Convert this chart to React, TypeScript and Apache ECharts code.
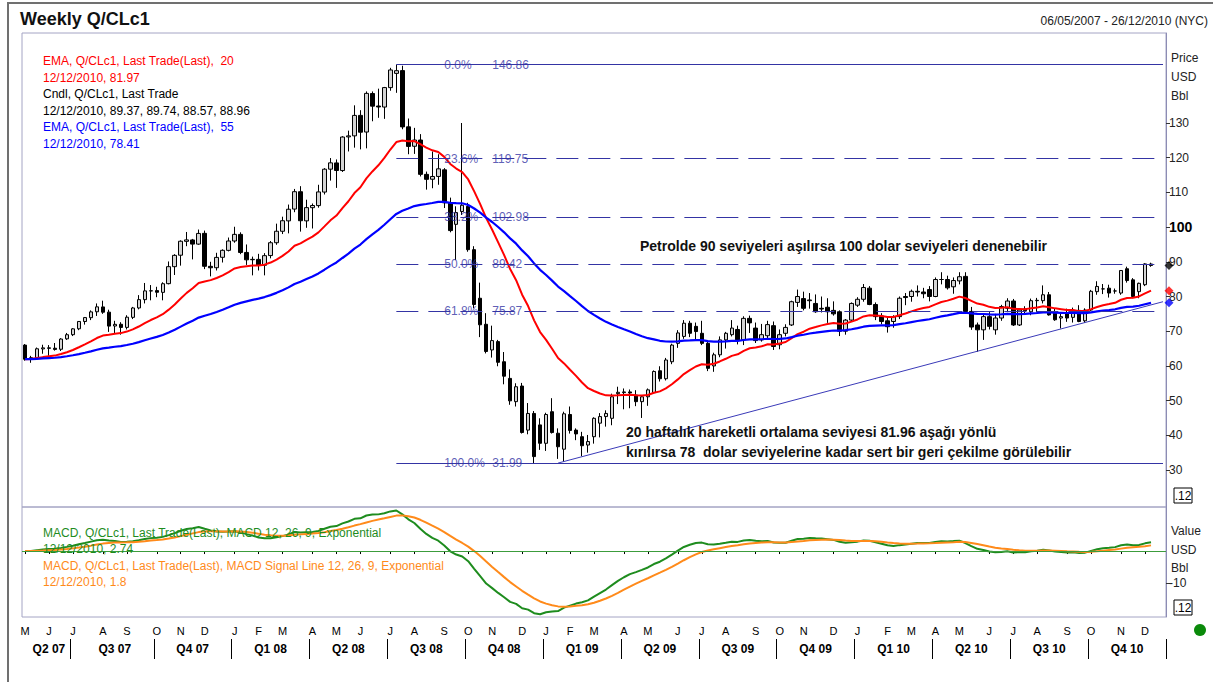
import React, { useEffect, useRef } from 'react';
import * as echarts from 'echarts';

const FONT = '"Liberation Sans", Arial, Helvetica, sans-serif';

// Weekly candles [open, close, low, high]; week 0 is the week labelled 06/05/2007
const candles2007 = [
  [66.0, 61.93, 61.5, 66.3], [61.9, 62.37, 60.9, 62.9], [62.4, 64.94, 62.2, 65.3], [64.9, 65.2, 63.5, 66.1],
  [65.2, 65.08, 62.9, 66.0], [65.1, 64.76, 64.4, 66.6], [64.8, 67.75, 64.3, 68.0], [67.8, 68.99, 67.5, 69.5],
  [69.0, 70.68, 68.6, 70.9], [70.7, 72.81, 70.3, 72.9], [72.8, 73.93, 71.9, 74.1], [73.9, 75.57, 73.2, 76.0],
  [75.6, 77.02, 74.4, 78.0], [77.0, 75.48, 75.0, 78.8], [75.5, 71.47, 69.8, 76.2], [71.5, 71.98, 69.2, 73.0],
  [72.0, 71.09, 69.0, 72.6], [71.1, 74.04, 70.5, 74.6], [74.0, 76.7, 73.5, 77.0], [76.7, 79.1, 76.3, 80.4],
  [79.1, 81.62, 78.0, 83.9], [81.6, 81.66, 78.9, 83.3], [81.7, 81.22, 79.8, 82.8], [81.2, 83.69, 78.9, 84.1],
  [83.7, 88.6, 83.5, 90.1], [88.6, 91.86, 86.2, 92.2], [91.9, 95.93, 88.9, 96.2], [95.9, 96.32, 94.5, 98.6],
  [96.3, 95.1, 90.7, 96.6], [95.1, 98.18, 94.9, 99.3], [98.2, 88.71, 87.9, 99.0], [88.7, 88.28, 85.8, 90.0],
  [88.3, 91.27, 87.5, 92.6], [91.3, 93.31, 89.8, 93.6], [93.3, 96.0, 93.0, 97.0],
];
const candles2008 = [
  [96.0, 97.91, 95.5, 100.1], [97.9, 92.69, 92.2, 98.5], [92.7, 90.57, 89.1, 95.0], [90.6, 90.71, 86.1, 91.5],
  [90.7, 88.96, 87.5, 92.3], [89.0, 91.77, 86.1, 92.5], [91.8, 95.5, 91.0, 96.0], [95.5, 98.81, 94.9, 101.0],
  [98.8, 101.84, 98.0, 103.0], [101.8, 105.15, 98.2, 106.5], [105.2, 110.21, 104.3, 111.0], [110.2, 101.84, 98.7, 111.8],
  [101.8, 105.62, 99.8, 107.9], [105.6, 106.23, 99.6, 106.8], [106.2, 110.14, 105.6, 112.2], [110.1, 116.69, 109.4, 117.0],
  [116.7, 118.52, 113.4, 119.9], [118.5, 116.32, 111.3, 119.5], [116.3, 125.96, 115.9, 126.2], [126.0, 126.29, 121.8, 127.8],
  [126.3, 132.19, 122.9, 135.1], [132.2, 127.35, 122.4, 133.7], [127.4, 138.54, 122.7, 139.1], [138.5, 134.86, 130.5, 139.1],
  [134.9, 134.62, 131.5, 139.9], [134.6, 140.21, 131.2, 140.4], [140.2, 145.29, 139.3, 145.9], [144.3, 145.08, 138.7, 146.86],
  [145.1, 128.88, 128.2, 146.5], [128.9, 123.26, 121.0, 131.3], [123.3, 125.1, 121.1, 128.6], [125.1, 115.2, 114.6, 126.8],
  [115.2, 113.77, 110.8, 116.0], [113.8, 114.59, 111.2, 121.8], [114.6, 116.8, 112.2, 121.0], [116.5, 107.0, 105.5, 117.0],
  [107.0, 99.0, 98.5, 108.5], [100.8, 104.2, 90.5, 106.0], [104.5, 106.3, 103.5, 130.0], [106.0, 93.5, 92.9, 107.0],
  [93.5, 77.7, 76.6, 94.5], [79.5, 71.85, 68.3, 84.0], [72.0, 64.15, 63.6, 75.2], [64.6, 67.3, 62.4, 71.6],
  [67.0, 61.04, 59.9, 67.5], [61.2, 57.04, 54.7, 64.0], [56.4, 49.93, 48.8, 59.0], [49.7, 54.0, 48.3, 55.0],
  [54.2, 40.81, 40.5, 55.1], [41.5, 46.3, 40.3, 49.3], [46.3, 33.87, 31.99, 47.0], [43.0, 37.7, 35.8, 44.9],
];
const candles2009 = [
  [37.7, 46.0, 35.5, 46.5], [46.8, 40.8, 40.5, 50.7], [40.6, 36.7, 33.2, 42.0], [36.0, 46.2, 32.4, 46.8],
  [46.0, 41.4, 40.5, 48.3], [41.5, 40.4, 38.6, 42.0], [39.6, 37.0, 34.0, 41.0], [37.2, 38.2, 35.0, 40.1],
  [39.6, 44.9, 37.6, 45.2], [43.5, 45.4, 39.4, 46.4], [45.4, 46.3, 42.5, 47.2], [44.9, 51.1, 42.9, 52.0],
  [52.0, 52.4, 49.0, 54.0], [52.3, 52.5, 47.5, 53.5], [52.5, 52.2, 47.8, 53.2], [51.6, 49.7, 48.4, 53.0],
  [49.7, 51.1, 45.0, 51.6], [51.1, 53.1, 48.5, 53.5], [52.3, 58.4, 52.0, 58.7], [58.6, 56.3, 55.5, 59.9],
  [56.3, 61.7, 55.8, 62.3], [61.2, 66.0, 60.5, 66.4], [66.5, 69.5, 65.2, 70.3], [68.5, 72.3, 67.8, 73.2],
  [72.3, 69.4, 68.3, 73.0], [71.4, 69.9, 67.6, 72.5], [69.4, 66.5, 66.0, 73.0], [66.5, 59.3, 58.5, 67.0],
  [60.0, 63.2, 58.3, 63.8], [63.2, 67.5, 62.5, 68.5], [67.5, 69.4, 65.0, 69.8], [69.0, 70.9, 68.5, 73.2],
  [70.5, 67.5, 66.2, 71.6], [67.5, 73.7, 66.0, 74.3], [73.7, 72.4, 69.5, 74.5], [70.9, 67.3, 66.6, 72.5],
  [67.5, 69.0, 67.0, 72.1], [68.7, 71.9, 67.8, 73.0], [71.6, 65.6, 64.6, 72.8], [66.1, 69.0, 64.8, 70.5],
  [69.4, 71.1, 68.5, 72.0], [71.8, 78.5, 71.5, 78.8], [78.3, 80.0, 77.0, 82.0], [79.4, 76.6, 76.0, 81.4],
  [78.8, 79.0, 76.5, 81.0], [78.0, 75.6, 75.3, 80.6], [76.6, 76.4, 75.4, 80.0], [76.9, 75.6, 72.4, 79.5],
  [76.0, 75.0, 74.5, 78.6], [75.6, 70.0, 68.6, 76.0], [70.0, 73.2, 69.0, 73.5], [73.2, 78.0, 72.8, 78.3],
  [77.5, 79.2, 77.0, 79.8],
];
const candles2010 = [
  [79.2, 82.6, 78.5, 83.6], [82.4, 77.7, 77.5, 83.0], [77.7, 74.2, 73.2, 78.3], [74.4, 72.8, 72.0, 75.2],
  [73.0, 71.3, 69.6, 73.8], [72.8, 74.2, 71.0, 74.6], [74.2, 79.5, 73.5, 80.0], [80.0, 79.7, 77.5, 81.0],
  [80.0, 81.5, 78.5, 82.0], [81.5, 81.3, 80.0, 83.2], [81.3, 80.8, 79.5, 82.5], [82.0, 80.0, 78.6, 83.0],
  [80.0, 84.9, 79.8, 85.5], [84.9, 84.9, 83.5, 87.0], [84.9, 82.5, 82.0, 86.0], [82.8, 84.6, 80.8, 85.5],
  [84.5, 85.7, 83.5, 87.0], [85.8, 75.7, 75.0, 87.0], [75.7, 71.2, 70.4, 77.0], [71.8, 70.4, 64.1, 72.5],
  [70.4, 74.2, 67.5, 75.0], [74.2, 71.4, 70.5, 75.5], [70.4, 73.8, 69.0, 75.0], [73.8, 77.1, 73.0, 77.6],
  [76.6, 78.7, 75.5, 79.5], [78.7, 71.8, 71.5, 79.3], [71.8, 76.1, 71.5, 76.6], [76.4, 75.9, 74.7, 77.2],
  [75.6, 78.8, 74.6, 79.4], [78.8, 78.9, 75.4, 79.6], [78.8, 80.5, 78.0, 83.2], [80.5, 74.7, 74.5, 81.3],
  [75.2, 73.3, 73.0, 76.5], [73.8, 74.2, 70.8, 75.4], [75.2, 73.8, 72.7, 76.5], [74.0, 76.0, 72.5, 76.8],
  [76.0, 72.8, 72.6, 77.5], [73.0, 76.1, 72.4, 76.6], [76.1, 81.5, 75.8, 81.9], [81.4, 82.9, 80.5, 84.4],
  [82.2, 82.2, 80.7, 83.6], [82.4, 81.0, 79.7, 83.4], [81.6, 81.6, 80.8, 82.3], [81.0, 87.5, 80.5, 87.6],
  [88.0, 84.6, 84.0, 88.6], [84.8, 80.0, 79.5, 85.3], [81.4, 83.8, 79.5, 84.0], [83.4, 89.4, 83.0, 89.6],
  [89.37, 88.96, 88.57, 89.74],
];

const fibLevels = [
  { pct: '0.0%', value: 146.86, solid: true },
  { pct: '23.6%', value: 119.75, solid: false },
  { pct: '38.2%', value: 102.98, solid: false },
  { pct: '50.0%', value: 89.42, solid: false },
  { pct: '61.8%', value: 75.87, solid: false },
  { pct: '100.0%', value: 31.99, solid: true },
];
const fibStartWeek = 62;
const fibLabelWeek = 70;
const trendLine = [[89, 32.0], [190, 78.5]];
const priceTicks = [30, 40, 50, 60, 70, 80, 90, 100, 110, 120, 130];
const macdTicks = [-10];

const priceLegend = [
  { text: 'EMA, Q/CLc1, Last Trade(Last),  20', color: '#ff0000' },
  { text: '12/12/2010, 81.97', color: '#ff0000' },
  { text: 'Cndl, Q/CLc1, Last Trade', color: '#000000' },
  { text: '12/12/2010, 89.37, 89.74, 88.57, 88.96', color: '#000000' },
  { text: 'EMA, Q/CLc1, Last Trade(Last),  55', color: '#0000ff' },
  { text: '12/12/2010, 78.41', color: '#0000ff' },
];
const macdLegend = [
  { text: 'MACD, Q/CLc1, Last Trade(Last), MACD 12, 26, 9, Exponential', color: '#1e8c1e' },
  { text: '12/12/2010, 2.74', color: '#1e8c1e' },
  { text: 'MACD, Q/CLc1, Last Trade(Last), MACD Signal Line 12, 26, 9, Exponential', color: '#ff8a1a' },
  { text: '12/12/2010, 1.8', color: '#ff8a1a' },
];
const notes = [
  'Petrolde 90 seviyeleri aşılırsa 100 dolar seviyeleri denenebilir',
  '20 haftalık hareketli ortalama seviyesi 81.96 aşağı yönlü',
  'kırılırsa 78  dolar seviyelerine kadar sert bir geri çekilme görülebilir',
];

const candles = [...candles2007, ...candles2008, ...candles2009, ...candles2010];
const N_SLOTS = 191;
const START = Date.UTC(2007, 4, 6);
const weekDates = Array.from({ length: N_SLOTS }, (_, i) => new Date(START + i * 7 * 86400000));
const categories = weekDates.map((d) => d.toISOString().slice(0, 10));

const monthStart = new Set<number>();
const quarterStart: number[] = [0];
weekDates.forEach((d, i) => {
  if (i === 0 || d.getUTCMonth() !== weekDates[i - 1].getUTCMonth()) {
    monthStart.add(i);
    if (i > 0 && d.getUTCMonth() % 3 === 0) quarterStart.push(i);
  }
});
const quarterStartSet = new Set(quarterStart.filter((i) => i > 0));
const quarterMid = new Set<number>();
quarterStart.forEach((s, k) => {
  const e = k + 1 < quarterStart.length ? quarterStart[k + 1] : N_SLOTS;
  quarterMid.add(Math.floor((s + e) / 2));
});

function ema(values: number[], n: number) {
  const k = 2 / (n + 1);
  const out: number[] = [];
  let prev = values[0];
  values.forEach((v, i) => {
    prev = i === 0 ? v : prev + k * (v - prev);
    out.push(+prev.toFixed(3));
  });
  return out;
}
const closes = candles.map((c) => c[1]);
const ema20 = ema(closes, 20);
const ema55 = ema(closes, 55);
const e12 = ema(closes, 12);
const e26 = ema(closes, 26);
const macd = e12.map((v, i) => +(v - e26[i]).toFixed(3));
const signal = ema(macd, 9);
const last = candles.length - 1;

const FIB = '#3434a4';

function txt(text: string, x: number, y: number, fill: string, font: string, align = 'left') {
  return { type: 'text', x, y, silent: true, z: 100, style: { text, fill, font, textAlign: align, textVerticalAlign: 'middle' } };
}

export default function App() {
  const ref = useRef<HTMLDivElement>(null);
  useEffect(() => {
    const chart = echarts.init(ref.current!, null, { renderer: 'svg' });
    const graphics: any[] = [
      { type: 'rect', shape: { x: 8, y: 3, width: 1215, height: 700 }, style: { fill: 'none', stroke: '#707070', lineWidth: 2 }, silent: true },
      txt('Weekly Q/CLc1', 20, 19, '#111', `bold 18px ${FONT}`),
      txt('06/05/2007 - 26/12/2010 (NYC)', 1208, 21, '#222', `12px ${FONT}`, 'right'),
      ...priceLegend.map((l, i) => txt(l.text, 43, 61 + i * 16.6, l.color, `12px ${FONT}`)),
      ...macdLegend.map((l, i) => txt(l.text, 43, 533 + i * 16.4, l.color, `12px ${FONT}`)),
      txt('Price', 1171, 58, '#222', `12px ${FONT}`),
      txt('USD', 1171, 77, '#222', `12px ${FONT}`),
      txt('Bbl', 1171, 96, '#222', `12px ${FONT}`),
      txt('Value', 1171, 531, '#222', `12px ${FONT}`),
      txt('USD', 1171, 550, '#222', `12px ${FONT}`),
      txt('Bbl', 1171, 568, '#222', `12px ${FONT}`),
      { type: 'rect', shape: { x: 1174, y: 488, width: 18, height: 15 }, style: { fill: '#fff', stroke: '#000', lineWidth: 1 }, silent: true },
      txt('.12', 1183, 496, '#000', `12px ${FONT}`, 'center'),
      { type: 'rect', shape: { x: 1174, y: 600, width: 18, height: 15 }, style: { fill: '#fff', stroke: '#000', lineWidth: 1 }, silent: true },
      txt('.12', 1183, 608, '#000', `12px ${FONT}`, 'center'),
      txt(notes[0], 640, 246, '#111', `bold 14px ${FONT}`),
      txt(notes[1], 626, 432, '#111', `bold 14px ${FONT}`),
      txt(notes[2], 626, 452, '#111', `bold 14px ${FONT}`),
      { type: 'circle', shape: { cx: 1200, cy: 630, r: 6 }, style: { fill: '#0a8a0a' }, silent: true },
    ];
    const option: any = {
      animation: false,
      backgroundColor: '#ffffff',
      textStyle: { fontFamily: FONT },
      grid: [
        { left: 22, top: 33, width: 1144, height: 474, show: true, borderColor: '#a4a4c4', borderWidth: 1, backgroundColor: '#fff' },
        { left: 22, top: 507, width: 1144, height: 110, show: true, borderColor: '#a4a4c4', borderWidth: 1 },
      ],
      xAxis: [
        { type: 'category', gridIndex: 0, data: categories, boundaryGap: true, axisLine: { show: false }, axisTick: { show: false }, axisLabel: { show: false }, splitLine: { show: false } },
        {
          type: 'category', gridIndex: 1, data: categories, boundaryGap: true, position: 'bottom',
          axisLine: { show: false },
          axisTick: { show: true, alignWithLabel: true, length: 3, interval: (i: number) => monthStart.has(i), lineStyle: { color: '#000' } },
          axisLabel: {
            show: true, interval: (i: number) => monthStart.has(i), margin: 8, fontSize: 11, color: '#000', fontFamily: FONT,
            formatter: (v: string) => 'JFMAMJJASOND'[new Date(v + 'T00:00:00Z').getUTCMonth()],
          },
        },
        {
          type: 'category', gridIndex: 1, data: categories, boundaryGap: true, position: 'bottom', offset: 22,
          axisLine: { show: false },
          axisTick: { show: true, alignWithLabel: false, length: 20, interval: (i: number) => quarterStartSet.has(i), lineStyle: { color: '#000', width: 1 } },
          axisLabel: {
            show: true, interval: (i: number) => quarterMid.has(i), margin: 4, fontSize: 12, fontWeight: 'bold', color: '#000', fontFamily: FONT,
            formatter: (v: string) => {
              const d = new Date(v + 'T00:00:00Z');
              return `Q${Math.floor(d.getUTCMonth() / 3) + 1} ${String(d.getUTCFullYear()).slice(2)}`;
            },
          },
        },
      ],
      yAxis: [
        {
          type: 'value', gridIndex: 0, position: 'right', min: 19.34, max: 155.94, splitLine: { show: false },
          axisLine: { show: true, lineStyle: { color: '#8c8cb4' } },
          axisTick: { show: true, length: 4, customValues: priceTicks, lineStyle: { color: '#333' } },
          axisLabel: {
            show: true, customValues: priceTicks, margin: 3, fontSize: 12, color: '#222', fontFamily: FONT,
            formatter: (v: number) => (v === 100 ? '{b|100}' : String(v)),
            rich: { b: { fontWeight: 'bold', fontSize: 14, color: '#000', fontFamily: FONT } },
          },
        },
        {
          type: 'value', gridIndex: 1, position: 'right', min: -20.6, max: 13.75, splitLine: { show: false },
          axisLine: { show: true, lineStyle: { color: '#8c8cb4' } },
          axisTick: { show: true, length: 4, customValues: macdTicks, lineStyle: { color: '#333' } },
          axisLabel: { show: true, customValues: macdTicks, margin: 3, fontSize: 12, color: '#222', fontFamily: FONT },
        },
      ],
      series: [
        {
          type: 'candlestick', name: 'Cndl', xAxisIndex: 0, yAxisIndex: 0, data: candles, barWidth: 4,
          itemStyle: { color: '#d4d4d4', color0: '#000', borderColor: '#000', borderColor0: '#000', borderWidth: 1 },
          markLine: {
            silent: true, symbol: ['none', 'none'], label: { show: false },
            data: fibLevels.map((f) => [
              { coord: [fibStartWeek, f.value], lineStyle: { color: FIB, width: 1, type: f.solid ? 'solid' : [22, 10] } },
              { coord: [N_SLOTS - 1, f.value] },
            ]),
          },
        },
        { type: 'line', name: 'EMA20', xAxisIndex: 0, yAxisIndex: 0, data: ema20, showSymbol: false, lineStyle: { color: '#ff0000', width: 2 }, z: 3 },
        { type: 'line', name: 'EMA55', xAxisIndex: 0, yAxisIndex: 0, data: ema55, showSymbol: false, lineStyle: { color: '#0000ff', width: 2.2 }, z: 3 },
        { type: 'line', name: 'Trend', xAxisIndex: 0, yAxisIndex: 0, data: trendLine, showSymbol: false, lineStyle: { color: '#3a3ab8', width: 1 }, z: 4 },
        {
          type: 'scatter', xAxisIndex: 0, yAxisIndex: 0, symbolSize: 0, z: 5, silent: true,
          data: fibLevels.map((f) => [fibLabelWeek, f.value]),
          label: {
            show: true, position: 'right', distance: 0,
            formatter: (p: any) => `{p|${fibLevels[p.dataIndex].pct}}{v|${fibLevels[p.dataIndex].value.toFixed(2)}}`,
            rich: { p: { width: 48, color: FIB, fontSize: 12, fontFamily: FONT }, v: { color: FIB, fontSize: 12, fontFamily: FONT } },
          },
        },
        {
          type: 'scatter', xAxisIndex: 0, yAxisIndex: 0, symbol: 'diamond', symbolSize: 9, clip: false, z: 6, silent: true,
          data: [
            { value: [N_SLOTS, closes[last]], itemStyle: { color: '#000' } },
            { value: [N_SLOTS, ema20[last]], itemStyle: { color: '#ff0000' } },
            { value: [N_SLOTS, ema55[last]], itemStyle: { color: '#0000ff' } },
          ],
        },
        {
          type: 'line', name: 'MACD', xAxisIndex: 1, yAxisIndex: 1, data: macd, showSymbol: false, lineStyle: { color: '#1e8c1e', width: 2 }, z: 3,
          markLine: { silent: true, symbol: ['none', 'none'], label: { show: false }, lineStyle: { color: '#3c9c3c', width: 1, type: 'solid' }, data: [{ yAxis: 0 }] },
        },
        { type: 'line', name: 'Signal', xAxisIndex: 1, yAxisIndex: 1, data: signal, showSymbol: false, lineStyle: { color: '#ff8a1a', width: 2 }, z: 4 },
      ],
      graphic: graphics,
    };
    chart.setOption(option);
    return () => chart.dispose();
  }, []);
  return <div ref={ref} style={{ position: 'fixed', left: 0, top: 0, width: 1213, height: 682, background: '#fff' }} />;
}
